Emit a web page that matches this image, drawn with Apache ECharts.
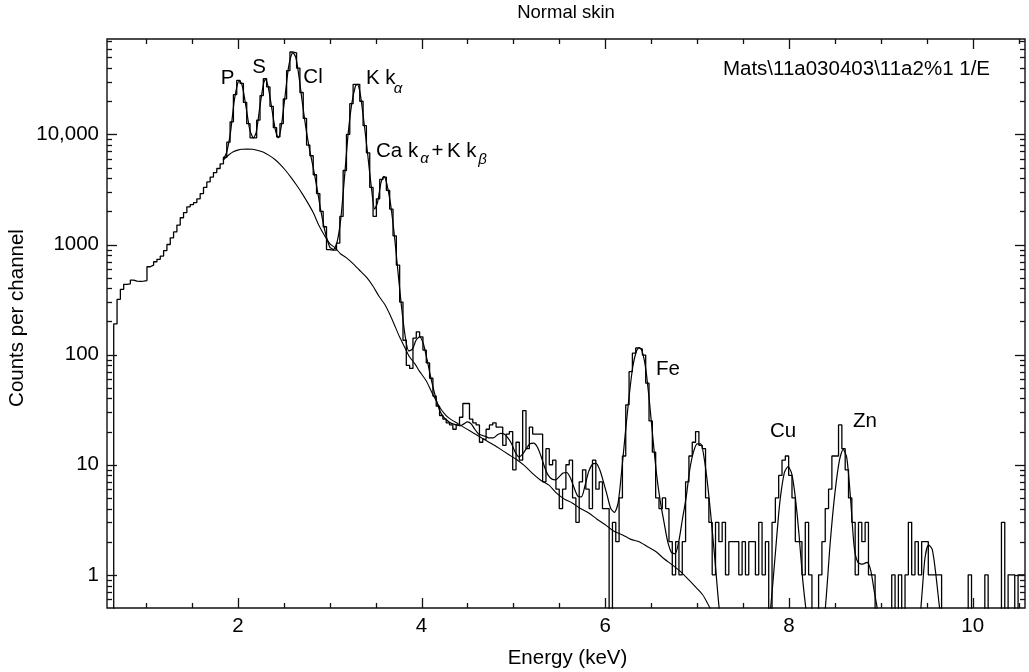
<!DOCTYPE html>
<html><head><meta charset="utf-8">
<script src="https://cdn.jsdelivr.net/npm/echarts@6/dist/echarts.min.js"></script>
<style>html,body{margin:0;padding:0;background:#fff}#c{width:1029px;height:672px}</style>
</head><body><div id="c"></div>
<script>
// ---- data ----
const channelStart = 0.612;   // keV, left edge of first channel
const channelWidth = 0.0362;  // keV per channel
const counts = [0,
 190,318,392,435,440,475,465,462,465,470, 628,650,697,733,785,880,1000,1150,1300,1500,
 1750,1950,2200,2300,2400,2600,2900,3300,3700,4100, 4500,4900,5400,6200,8500,13000,23000,31000,29000,19500,
 12500,9300,9300,13500,22500,32000,27000,18000,11500,9500, 12500,21000,38000,56000,55000,40000,24000,14000,8000,6400,
 4300,2900,2000,1450,900,890,890,1030,1800,4700, 10000,19000,28500,28500,20000,12000,6800,3300,1800,2600,
 3900,4100,3100,2100,1200,650,300,135,80,75, 141,161,145,110,84,61,42,34,28,26,
 24,23,21,23,27,36,36,26,24,23, 16,17,21,23,24,22,22,15,19,20,
 9,16,11,31,14,22,19,19,19,7, 14,10,11,6,4,6,10,11,5,3,
 7,9,6,4,11,6,7,4,4,0, 3,2,5,12,35,70,103,115,112,99,
 55,25,13,5,4,5,4,2,1,2, 1,2,7,12,16,20,15,14,5,3,
 1,3,2,3,1,2,2,2,1,2, 1,2,2,1,3,1,2,0,3,5,
 8,11,12,8,5,2,2,1,3,1, 0,0,1,2,4,6,12,12,23,14,
 9,5,3,1,3,2,3,1,1,0, 0,0,0,0,1,0,1,0,1,3,
 1,2,1,2,2,1,1,1,1,0, 0,0,0,0,0,0,0,1,0,0,
 0,0,1,0,0,0,0,3,0,1, 1,0,1,1];
const fitCurve = [[1.84,5830],[1.88,7000],[1.92,10500],[1.96,20000],[2.00,29500],[2.02,30500],[2.05,27000],[2.09,17500],[2.13,11000],[2.17,9300],
 [2.20,10500],[2.24,18000],[2.28,29000],[2.30,31500],[2.33,27000],[2.37,17000],[2.41,10800],[2.44,9300],[2.47,11500],[2.51,21000],
 [2.55,40000],[2.58,52000],[2.60,55000],[2.63,50000],[2.66,36000],[2.70,20000],[2.74,11500],[2.78,7300],[2.82,5000],[2.86,3300],
 [2.90,2100],[2.95,1300],[3.00,950],[3.04,900],[3.08,1050],[3.12,1700],[3.16,4000],[3.20,10000],[3.24,19000],[3.28,27500],
 [3.30,28500],[3.33,24000],[3.37,13500],[3.41,7000],[3.45,3500],[3.49,2100],[3.52,2400],[3.56,3700],[3.59,4150],[3.62,3600],
 [3.66,2400],[3.70,1300],[3.74,600],[3.78,280],[3.82,150],[3.86,108],[3.90,112],[3.94,135],[3.98,145],[4.02,125],
 [4.06,90],[4.10,62],[4.14,45],[4.18,34],[4.22,28.5],[4.26,26],[4.30,24.5],[4.34,23.5],[4.38,23],[4.42,22.5],
 [4.46,23.5],[4.50,24.5],[4.54,23.5],[4.58,21],[4.62,19],[4.66,18.5],[4.70,18],[4.74,17.5],[4.78,17.5],[4.82,18.5],
 [4.86,19.3],[4.90,19],[4.94,17.5],[4.98,15.5],[5.02,13],[5.06,11.8],[5.10,12.5],[5.14,14],[5.18,15.5],[5.22,15.7],
 [5.26,14.5],[5.30,12],[5.34,9.5],[5.38,8],[5.42,7.4],[5.46,7.3],[5.50,7.8],[5.54,8.4],[5.58,8.5],[5.62,7.6],
 [5.66,6.2],[5.70,5.2],[5.74,5.1],[5.78,6.5],[5.82,8.7],[5.86,10.1],[5.90,10.3],[5.94,9.0],[5.98,7.0],[6.02,5.3],
 [6.06,4.0],[6.10,3.7],[6.14,4.5],[6.18,9],[6.22,20],[6.26,42],[6.30,78],[6.34,108],[6.37,116],[6.40,108],
 [6.44,75],[6.48,38],[6.52,17],[6.56,8],[6.60,4.6],[6.64,3.0],[6.68,2.0],[6.72,1.6],[6.76,1.55],[6.80,2.0],
 [6.84,3.2],[6.88,5],[6.92,9],[6.96,13],[7.00,15.5],[7.04,15.5],[7.08,11],[7.12,6],[7.16,2.8],[7.20,1.2],
 [7.24,0.5],[7.28,0.3],[7.76,0.3],[7.80,0.5],[7.85,1.5],[7.90,4.5],[7.95,8.5],[7.99,9.6],[8.03,8.3],[8.07,5],
 [8.11,2.3],[8.15,0.9],[8.19,0.45],[8.22,0.3],[8.36,0.3],[8.40,0.55],[8.45,2],[8.50,5.5],[8.55,11],[8.59,13.8],
 [8.63,11.5],[8.67,5],[8.71,1.8],[8.75,1.3],[8.80,1.25],[8.85,1.3],[8.89,1.1],[8.93,0.7],[8.97,0.45],[9.00,0.3],
 [9.40,0.3],[9.44,0.55],[9.48,1.4],[9.52,1.87],[9.56,1.7],[9.60,1.0],[9.64,0.5],[9.68,0.3]];
const backgroundCurve = [[1.84,5830],[1.90,6500],[1.95,6950],[2.00,7200],[2.05,7320],[2.10,7350],[2.16,7320],[2.22,7150],[2.28,6900],[2.34,6450],
 [2.40,5950],[2.46,5350],[2.52,4700],[2.58,4050],[2.64,3450],[2.70,2900],[2.76,2400],[2.82,1950],[2.88,1500],[2.94,1220],
 [3.00,1020],[3.06,930],[3.12,820],[3.18,760],[3.25,674],[3.32,590],[3.40,505],[3.47,420],[3.54,335],[3.60,285],
 [3.65,236],[3.70,190],[3.76,145],[3.82,115],[3.87,95],[3.93,82],[3.98,70],[4.05,58],[4.12,44],[4.19,34],
 [4.25,29],[4.30,26.5],[4.40,23.5],[4.48,21.4],[4.56,19.5],[4.66,17.4],[4.76,15.6],[4.85,14],[4.94,12.5],[5.03,11.2],
 [5.12,9.8],[5.21,8.3],[5.30,7.2],[5.39,6.5],[5.46,5.6],[5.55,4.9],[5.64,4.5],[5.73,4.0],[5.82,3.65],[5.91,3.2],
 [6.00,2.85],[6.09,2.5],[6.19,2.3],[6.28,2.1],[6.37,2.0],[6.46,1.8],[6.55,1.63],[6.64,1.4],[6.73,1.23],[6.82,1.07],
 [6.91,0.9],[7.00,0.75],[7.06,0.66],[7.10,0.58],[7.14,0.5],[7.18,0.42]];
const xMajorTicks = [2, 4, 6, 8, 10];
const xTickLabels = ['2', '4', '6', '8', '10'];
const xMinorTicks = [1, 1.5, 2.5, 3, 3.5, 4.5, 5, 5.5, 6.5, 7, 7.5, 8.5, 9, 9.5, 10.5];
const yMajorTicks = [1, 10, 100, 1000, 10000];
const yTickLabels = ['1', '10', '100', '1000', '10,000'];
const yMinorTicks = [0.6, 0.7, 0.8, 0.9, 2, 3, 4, 5, 6, 7, 8, 9, 20, 30, 40, 50, 60, 70, 80, 90,
  200, 300, 400, 500, 600, 700, 800, 900, 2000, 3000, 4000, 5000, 6000, 7000, 8000, 9000,
  20000, 30000, 40000, 50000, 60000, 70000];
const xRange = [0.575, 10.57];
const yRange = [0.5, 73500];

// ---- build ----
const FONT = '"Liberation Sans", Arial, Helvetica, sans-serif';
const FS = 20.5;
const ZERO_FLOOR = 0.1; // empty channels drawn below the axis floor
const histData = counts.map((c, i) => [channelStart + i * channelWidth, c > 0 ? c : ZERO_FLOOR]);
histData.push([channelStart + counts.length * channelWidth, counts[counts.length - 1] || ZERO_FLOOR]);

function tickSeries(values, isX, len) {
  return {
    type: 'custom', silent: true, clip: false, z: 5,
    data: values.map(v => isX ? [v, 1] : [1, v]),
    renderItem: function (params, api) {
      const cs = params.coordSys;
      const p = api.coord([api.value(0), api.value(1)]);
      const st = { stroke: '#111', lineWidth: 1.3 };
      if (isX) {
        const x = Math.round(p[0]) + 0.5, b = cs.y + cs.height, t = cs.y;
        return { type: 'group', children: [
          { type: 'line', shape: { x1: x, y1: b, x2: x, y2: b - len }, style: st },
          { type: 'line', shape: { x1: x, y1: t, x2: x, y2: t + len }, style: st }
        ] };
      }
      const y = Math.round(p[1]) + 0.5, l = cs.x, r = cs.x + cs.width;
      return { type: 'group', children: [
        { type: 'line', shape: { x1: l, y1: y, x2: l + len, y2: y }, style: st },
        { type: 'line', shape: { x1: r, y1: y, x2: r - len, y2: y }, style: st }
      ] };
    }
  };
}
function labelSeries(values, texts, isX) {
  return {
    type: 'custom', silent: true, clip: false, z: 5,
    data: values.map(v => isX ? [v, 1] : [1, v]),
    renderItem: function (params, api) {
      const cs = params.coordSys;
      const p = api.coord([api.value(0), api.value(1)]);
      const t = texts[params.dataIndex];
      if (isX) {
        return { type: 'text', x: p[0], y: cs.y + cs.height + 18,
          style: { text: t, fill: '#000', fontFamily: FONT, fontSize: FS, align: 'center', verticalAlign: 'middle' } };
      }
      return { type: 'text', x: cs.x - 8, y: p[1],
        style: { text: t, fill: '#000', fontFamily: FONT, fontSize: FS, align: 'right', verticalAlign: 'middle' } };
    }
  };
}
function txt(text, x, y, o) {
  return { type: 'text', x: x, y: y, z: 10,
    style: Object.assign({ text: text, fill: '#000', fontFamily: FONT, fontSize: FS, align: 'center', verticalAlign: 'middle' }, o || {}) };
}
const SUB = { fontSize: 15, fontStyle: 'italic', align: 'center' };

const chart = echarts.init(document.getElementById('c'), null, { renderer: 'canvas' });
chart.setOption({
  animation: false,
  backgroundColor: '#fff',
  grid: { left: 107, right: 4, top: 39, bottom: 64, show: true, borderColor: '#111', borderWidth: 1.4, backgroundColor: 'transparent' },
  xAxis: { type: 'value', min: xRange[0], max: xRange[1],
    axisLine: { show: false }, axisTick: { show: false }, axisLabel: { show: false }, splitLine: { show: false } },
  yAxis: { type: 'log', logBase: 10, min: yRange[0], max: yRange[1],
    axisLine: { show: false }, axisTick: { show: false }, axisLabel: { show: false }, splitLine: { show: false } },
  series: [
    { name: 'spectrum', type: 'line', data: histData, step: 'end', showSymbol: false, symbol: 'none',
      lineStyle: { color: '#000', width: 1.3 }, z: 3 },
    { name: 'fit', type: 'line', data: fitCurve, smooth: 0.25, showSymbol: false, symbol: 'none',
      lineStyle: { color: '#000', width: 1.2 }, z: 4 },
    { name: 'background', type: 'line', data: backgroundCurve, smooth: 0.25, showSymbol: false, symbol: 'none',
      lineStyle: { color: '#000', width: 1.1 }, z: 4 },
    tickSeries(xMajorTicks, true, 10),
    tickSeries(xMinorTicks, true, 5),
    tickSeries(yMajorTicks, false, 10),
    tickSeries(yMinorTicks, false, 5),
    labelSeries(xMajorTicks, xTickLabels, true),
    labelSeries(yMajorTicks, yTickLabels, false)
  ],
  graphic: { elements: [
    txt('Normal skin', 566, 13, { fontSize: 18.5 }),
    txt('Energy (keV)', 567.5, 658),
    txt('Counts per channel', 17.5, 318, {}),
    txt('Mats\\11a030403\\11a2%1 1/E', 990, 69, { align: 'right' }),
    txt('P', 227.5, 78),
    txt('S', 259, 67.5),
    txt('Cl', 313, 77.5),
    txt('K k', 366, 78, { align: 'left' }),
    txt('α', 398, 88.5, SUB),
    txt('Ca k', 376, 151.5, { align: 'left' }),
    txt('α', 424.5, 158.5, SUB),
    txt('+', 437.5, 151.5),
    txt('K k', 447, 151.5, { align: 'left' }),
    txt('β', 482.5, 159.5, SUB),
    txt('Fe', 668, 369),
    txt('Cu', 783, 431),
    txt('Zn', 865, 421)
  ] }
});
// rotate the y axis name
const opt = chart.getOption();
opt.graphic[0].elements[2].rotation = Math.PI / 2;
chart.setOption({ graphic: opt.graphic });
</script></body></html>
